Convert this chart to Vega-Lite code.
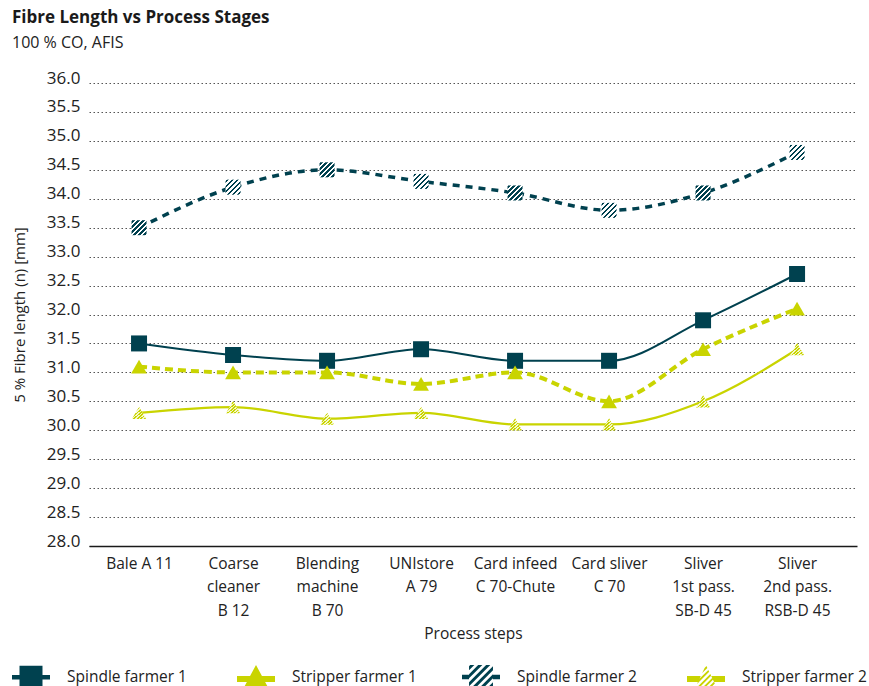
{
  "$schema": "https://vega.github.io/schema/vega-lite/v6.json",
  "width": 768,
  "height": 463,
  "padding": {"left": 12, "top": 9, "right": 12, "bottom": 4},
  "background": "#ffffff",
  "config": {
    "font": "Open Sans",
    "view": {"stroke": null}
  },
  "title": {
    "text": "Fibre Length vs Process Stages",
    "subtitle": "100 % CO, AFIS",
    "anchor": "start",
    "frame": "bounds",
    "fontSize": 17,
    "fontWeight": "bold",
    "color": "#1a1a1a",
    "subtitleFontSize": 16,
    "subtitleColor": "#222222",
    "subtitlePadding": 8,
    "offset": 17
  },
  "datasets": {
    "fibre": [
      {"step": "Bale A 11", "series": "Spindle farmer 1", "value": 31.5},
      {"step": "Coarse|cleaner|B 12", "series": "Spindle farmer 1", "value": 31.3},
      {"step": "Blending|machine|B 70", "series": "Spindle farmer 1", "value": 31.2},
      {"step": "UNIstore|A 79", "series": "Spindle farmer 1", "value": 31.4},
      {"step": "Card infeed|C 70-Chute", "series": "Spindle farmer 1", "value": 31.2},
      {"step": "Card sliver|C 70", "series": "Spindle farmer 1", "value": 31.2},
      {"step": "Sliver|1st pass.|SB-D 45", "series": "Spindle farmer 1", "value": 31.9},
      {"step": "Sliver|2nd pass.|RSB-D 45", "series": "Spindle farmer 1", "value": 32.7},
      {"step": "Bale A 11", "series": "Stripper farmer 1", "value": 31.1},
      {"step": "Coarse|cleaner|B 12", "series": "Stripper farmer 1", "value": 31.0},
      {"step": "Blending|machine|B 70", "series": "Stripper farmer 1", "value": 31.0},
      {"step": "UNIstore|A 79", "series": "Stripper farmer 1", "value": 30.8},
      {"step": "Card infeed|C 70-Chute", "series": "Stripper farmer 1", "value": 31.0},
      {"step": "Card sliver|C 70", "series": "Stripper farmer 1", "value": 30.5},
      {"step": "Sliver|1st pass.|SB-D 45", "series": "Stripper farmer 1", "value": 31.4},
      {"step": "Sliver|2nd pass.|RSB-D 45", "series": "Stripper farmer 1", "value": 32.1},
      {"step": "Bale A 11", "series": "Spindle farmer 2", "value": 33.5},
      {"step": "Coarse|cleaner|B 12", "series": "Spindle farmer 2", "value": 34.2},
      {"step": "Blending|machine|B 70", "series": "Spindle farmer 2", "value": 34.5},
      {"step": "UNIstore|A 79", "series": "Spindle farmer 2", "value": 34.3},
      {"step": "Card infeed|C 70-Chute", "series": "Spindle farmer 2", "value": 34.1},
      {"step": "Card sliver|C 70", "series": "Spindle farmer 2", "value": 33.8},
      {"step": "Sliver|1st pass.|SB-D 45", "series": "Spindle farmer 2", "value": 34.1},
      {"step": "Sliver|2nd pass.|RSB-D 45", "series": "Spindle farmer 2", "value": 34.8},
      {"step": "Bale A 11", "series": "Stripper farmer 2", "value": 30.3},
      {"step": "Coarse|cleaner|B 12", "series": "Stripper farmer 2", "value": 30.4},
      {"step": "Blending|machine|B 70", "series": "Stripper farmer 2", "value": 30.2},
      {"step": "UNIstore|A 79", "series": "Stripper farmer 2", "value": 30.3},
      {"step": "Card infeed|C 70-Chute", "series": "Stripper farmer 2", "value": 30.1},
      {"step": "Card sliver|C 70", "series": "Stripper farmer 2", "value": 30.1},
      {"step": "Sliver|1st pass.|SB-D 45", "series": "Stripper farmer 2", "value": 30.5},
      {"step": "Sliver|2nd pass.|RSB-D 45", "series": "Stripper farmer 2", "value": 31.4}
    ]
  },
  "data": {"name": "fibre"},
  "encoding": {
    "x": {
      "field": "step",
      "type": "nominal",
      "sort": null,
      "scale": {"type": "point", "padding": 0.585, "align": 0.455},
      "axis": {
        "title": "Process steps",
        "titleFontSize": 15.5,
        "titleFontWeight": "normal",
        "titleColor": "#222222",
        "titlePadding": 8,
        "labelExpr": "split(datum.label, '|')",
        "labelAngle": 0,
        "labelFontSize": 15.5,
        "labelColor": "#222222",
        "labelLineHeight": 23.5,
        "labelPadding": 10,
        "labelBaseline": "top",
        "ticks": false,
        "grid": false,
        "domain": true,
        "domainColor": "#1a1a1a",
        "domainWidth": 1.5
      }
    },
    "y": {
      "field": "value",
      "type": "quantitative",
      "scale": {"domain": [28, 36], "nice": false, "zero": false},
      "axis": {
        "title": "5 % Fibre length (n) [mm]",
        "titleFontSize": 15,
        "titleFontWeight": "normal",
        "titleColor": "#222222",
        "titlePadding": 19,
        "values": [28, 28.5, 29, 29.5, 30, 30.5, 31, 31.5, 32, 32.5, 33, 33.5, 34, 34.5, 35, 35.5, 36],
        "format": ".1f",
        "labelFontSize": 17,
        "labelColor": "#222222",
        "labelBaseline": "alphabetic",
        "labelPadding": 9,
        "ticks": false,
        "domain": false,
        "grid": true,
        "gridColor": "#555555",
        "gridDash": [1.5, 2.5],
        "gridWidth": 1.2
      }
    }
  },
  "layer": [
    {
      "transform": [{"filter": "datum.series === 'Stripper farmer 2'"}],
      "mark": {"type": "line", "interpolate": "monotone", "stroke": "#c9d400", "strokeWidth": 2.2}
    },
    {
      "transform": [{"filter": "datum.series === 'Stripper farmer 1'"}],
      "mark": {"type": "line", "interpolate": "monotone", "stroke": "#c9d400", "strokeWidth": 4, "strokeDash": [8, 5]}
    },
    {
      "transform": [{"filter": "datum.series === 'Spindle farmer 1'"}],
      "mark": {"type": "line", "interpolate": "monotone", "stroke": "#00414f", "strokeWidth": 2}
    },
    {
      "transform": [{"filter": "datum.series === 'Spindle farmer 2'"}],
      "mark": {"type": "line", "interpolate": "monotone", "stroke": "#00414f", "strokeWidth": 3.5, "strokeDash": [7, 6]}
    },
    {
      "transform": [{"filter": "datum.series === 'Spindle farmer 1'"}],
      "mark": {"type": "point", "filled": true, "opacity": 1, "strokeWidth": 0, "shape": "square", "size": 256, "fill": "#00414f"}
    },
    {
      "transform": [{"filter": "datum.series === 'Stripper farmer 1'"}],
      "mark": {"type": "point", "filled": true, "opacity": 1, "strokeWidth": 0, "shape": "triangle-up", "size": 250, "fill": "#c9d400"}
    },
    {
      "transform": [{"filter": "datum.series === 'Spindle farmer 2'"}],
      "mark": {"type": "point", "filled": true, "opacity": 1, "strokeWidth": 0, "shape": "square", "size": 225,
        "fill": {"gradient": "linear", "x1": 0, "y1": 0, "x2": 1, "y2": 1, "stops": [
          {"offset": 0, "color": "#ffffff"}, {"offset": 0.03, "color": "#ffffff"},
          {"offset": 0.03, "color": "#00414f"}, {"offset": 0.11, "color": "#00414f"},
          {"offset": 0.11, "color": "#ffffff"}, {"offset": 0.197, "color": "#ffffff"},
          {"offset": 0.197, "color": "#00414f"}, {"offset": 0.277, "color": "#00414f"},
          {"offset": 0.277, "color": "#ffffff"}, {"offset": 0.363, "color": "#ffffff"},
          {"offset": 0.363, "color": "#00414f"}, {"offset": 0.443, "color": "#00414f"},
          {"offset": 0.443, "color": "#ffffff"}, {"offset": 0.53, "color": "#ffffff"},
          {"offset": 0.53, "color": "#00414f"}, {"offset": 0.61, "color": "#00414f"},
          {"offset": 0.61, "color": "#ffffff"}, {"offset": 0.697, "color": "#ffffff"},
          {"offset": 0.697, "color": "#00414f"}, {"offset": 0.777, "color": "#00414f"},
          {"offset": 0.777, "color": "#ffffff"}, {"offset": 0.863, "color": "#ffffff"},
          {"offset": 0.863, "color": "#00414f"}, {"offset": 0.943, "color": "#00414f"},
          {"offset": 0.943, "color": "#ffffff"}, {"offset": 1, "color": "#ffffff"}
        ]}}
    },
    {
      "transform": [{"filter": "datum.series === 'Stripper farmer 2'"}],
      "mark": {"type": "point", "filled": true, "opacity": 1, "strokeWidth": 0, "shape": "triangle-up", "size": 200,
        "fill": {"gradient": "linear", "x1": 0, "y1": 0, "x2": 1, "y2": 1, "stops": [
          {"offset": 0, "color": "#f4f7c8"}, {"offset": 0.02, "color": "#f4f7c8"},
          {"offset": 0.02, "color": "#c9d400"}, {"offset": 0.085, "color": "#c9d400"},
          {"offset": 0.085, "color": "#f4f7c8"}, {"offset": 0.145, "color": "#f4f7c8"},
          {"offset": 0.145, "color": "#c9d400"}, {"offset": 0.21, "color": "#c9d400"},
          {"offset": 0.21, "color": "#f4f7c8"}, {"offset": 0.27, "color": "#f4f7c8"},
          {"offset": 0.27, "color": "#c9d400"}, {"offset": 0.335, "color": "#c9d400"},
          {"offset": 0.335, "color": "#f4f7c8"}, {"offset": 0.395, "color": "#f4f7c8"},
          {"offset": 0.395, "color": "#c9d400"}, {"offset": 0.46, "color": "#c9d400"},
          {"offset": 0.46, "color": "#f4f7c8"}, {"offset": 0.52, "color": "#f4f7c8"},
          {"offset": 0.52, "color": "#c9d400"}, {"offset": 0.585, "color": "#c9d400"},
          {"offset": 0.585, "color": "#f4f7c8"}, {"offset": 0.645, "color": "#f4f7c8"},
          {"offset": 0.645, "color": "#c9d400"}, {"offset": 0.71, "color": "#c9d400"},
          {"offset": 0.71, "color": "#f4f7c8"}, {"offset": 0.77, "color": "#f4f7c8"},
          {"offset": 0.77, "color": "#c9d400"}, {"offset": 0.835, "color": "#c9d400"},
          {"offset": 0.835, "color": "#f4f7c8"}, {"offset": 0.895, "color": "#f4f7c8"},
          {"offset": 0.895, "color": "#c9d400"}, {"offset": 0.96, "color": "#c9d400"},
          {"offset": 0.96, "color": "#f4f7c8"}, {"offset": 1, "color": "#f4f7c8"}
        ]}}
    },
    {
      "mark": {"type": "point", "filled": true, "opacity": 0, "strokeWidth": 0},
      "encoding": {
        "shape": {
          "field": "series",
          "type": "nominal",
          "title": null,
          "scale": {"domain": ["Spindle farmer 1", "Stripper farmer 1", "Spindle farmer 2", "Stripper farmer 2"], "range": [
            "M-1,-0.115H-0.605V-0.605H0.605V-0.115H1V0.115H0.605V0.605H-0.605V0.115H-1Z",
            "M0,-0.63L0.313,-0.05H1V0.26H0.48L0.68,0.63H-0.68L-0.48,0.26H-1V-0.05H-0.313Z",
            "M-1,-0.115H-0.63V0.115H-1Z M0.63,-0.115H1V0.115H0.63Z M-0.63,-0.57L-0.57,-0.63H-0.35L-0.63,-0.35Z M-0.63,-0.15L-0.15,-0.63H0.07L-0.63,0.07Z M-0.63,0.27L0.27,-0.63H0.49L-0.63,0.49Z M-0.57,0.63L0.63,-0.57V-0.35L-0.35,0.63Z M-0.15,0.63L0.63,-0.15V0.07L0.07,0.63Z M0.27,0.63L0.63,0.27V0.49L0.49,0.63Z",
            "M-1,-0.05H-0.276L-0.424,0.26H-1Z M0.276,-0.05H1V0.26H0.424Z M-0.073,-0.477L0.026,-0.576L0.071,-0.481L-0.2,-0.21Z M-0.346,0.096L0.123,-0.373L0.168,-0.278L-0.473,0.363Z M-0.56,0.63L0.226,-0.156L0.271,-0.061L-0.42,0.63Z M-0.26,0.63L0.323,0.047L0.368,0.142L-0.12,0.63Z M0.04,0.63L0.419,0.251L0.465,0.346L0.18,0.63Z M0.34,0.63L0.516,0.454L0.561,0.549L0.48,0.63Z"
          ]},
          "legend": {
            "orient": "none",
            "legendX": -77,
            "legendY": 575,
            "direction": "horizontal",
            "columns": 4,
            "gridAlign": "all",
            "columnPadding": 45,
            "symbolSize": 1444,
            "symbolOpacity": 1,
            "symbolStrokeWidth": 0,
            "labelFontSize": 15.5,
            "labelColor": "#222222",
            "labelOffset": 17,
            "labelLimit": 300
          }
        },
        "fill": {
          "field": "series",
          "type": "nominal",
          "title": null,
          "scale": {"domain": ["Spindle farmer 1", "Stripper farmer 1", "Spindle farmer 2", "Stripper farmer 2"], "range": ["#00414f", "#c9d400", "#00414f", "#c9d400"]},
          "legend": {
            "orient": "none",
            "legendX": -77,
            "legendY": 575,
            "direction": "horizontal",
            "columns": 4,
            "gridAlign": "all",
            "columnPadding": 45,
            "symbolSize": 1444,
            "symbolOpacity": 1,
            "symbolStrokeWidth": 0,
            "labelFontSize": 15.5,
            "labelColor": "#222222",
            "labelOffset": 17,
            "labelLimit": 300
          }
        }
      }
    }
  ]
}
